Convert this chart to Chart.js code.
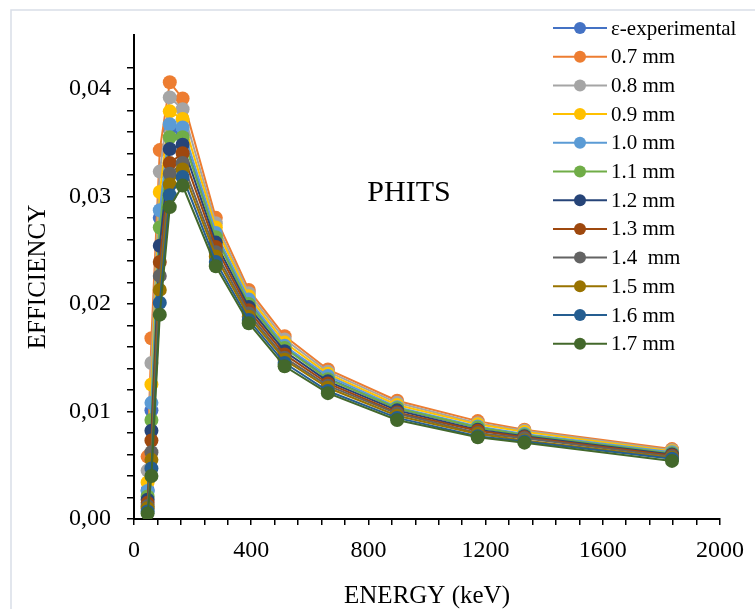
<!DOCTYPE html>
<html>
<head>
<meta charset="utf-8">
<script src="https://cdn.jsdelivr.net/npm/chart.js@4"></script>
<style>
  html, body { margin: 0; padding: 0; background: #fff; }
  #wrap { width: 755px; height: 609px; }
</style>
</head>
<body>
<div id="wrap"><canvas id="effChart" width="755" height="609"></canvas></div>
<script>
// Gamma line energies (keV)
const energies = [46.5, 59.5, 88, 122.1, 165.9, 279.2, 391.7, 514, 661.7, 898, 1173.2, 1332.5, 1836.1];

// Full-energy peak efficiency per dead-layer thickness
const effExp = [0.0027, 0.0101, 0.0280, 0.0362, 0.0358, 0.0264, 0.0202, 0.0160, 0.0131, 0.0103, 0.0085, 0.0078, 0.0061];
const eff07  = [0.0058, 0.0168, 0.0343, 0.0406, 0.0391, 0.0280, 0.0213, 0.0170, 0.0139, 0.0110, 0.0091, 0.0083, 0.0065];
const eff08  = [0.0045, 0.0145, 0.0323, 0.0392, 0.0381, 0.0275, 0.0210, 0.0167, 0.0137, 0.0108, 0.0089, 0.0082, 0.0064];
const eff09  = [0.0034, 0.0125, 0.0304, 0.0379, 0.0372, 0.0271, 0.0207, 0.0164, 0.0135, 0.0106, 0.0088, 0.0081, 0.0063];
const eff10  = [0.0026, 0.0108, 0.0287, 0.0367, 0.0364, 0.0266, 0.0204, 0.0161, 0.0133, 0.0104, 0.0086, 0.0079, 0.0062];
const eff11  = [0.0021, 0.0092, 0.0271, 0.0355, 0.0355, 0.0262, 0.0200, 0.0159, 0.0130, 0.0103, 0.0085, 0.0078, 0.0061];
const eff12  = [0.0018, 0.0082, 0.0254, 0.0344, 0.0348, 0.0257, 0.0197, 0.0156, 0.0128, 0.0101, 0.0083, 0.0077, 0.0060];
const eff13  = [0.0015, 0.0073, 0.0239, 0.0331, 0.0340, 0.0253, 0.0194, 0.0153, 0.0126, 0.0099, 0.0082, 0.0076, 0.0059];
const eff14  = [0.0012, 0.0062, 0.0226, 0.0321, 0.0331, 0.0248, 0.0191, 0.0150, 0.0124, 0.0098, 0.0080, 0.0075, 0.0058];
const eff15  = [0.0010, 0.0055, 0.0213, 0.0311, 0.0325, 0.0244, 0.0188, 0.0148, 0.0122, 0.0096, 0.0079, 0.0073, 0.0057];
const eff16  = [0.0007, 0.0047, 0.0201, 0.0301, 0.0318, 0.0239, 0.0185, 0.0145, 0.0119, 0.0094, 0.0077, 0.0072, 0.0056];
const eff17  = [0.0005, 0.0040, 0.0190, 0.0290, 0.0310, 0.0235, 0.0182, 0.0142, 0.0117, 0.0092, 0.0076, 0.0071, 0.0054];

const seriesNames = ['ε-experimental', '0.7 mm', '0.8 mm', '0.9 mm', '1.0 mm', '1.1 mm',
                     '1.2 mm', '1.3 mm', '1.4  mm', '1.5 mm', '1.6 mm', '1.7 mm'];
const seriesValues = [effExp, eff07, eff08, eff09, eff10, eff11, eff12, eff13, eff14, eff15, eff16, eff17];
const seriesColors = ['#4472C4', '#ED7D31', '#A5A5A5', '#FFC000', '#5B9BD5', '#70AD47',
                      '#264478', '#9E480E', '#636363', '#997300', '#255E91', '#43682B'];

const FONT = "'Liberation Serif', 'Times New Roman', serif";

const datasets = seriesNames.map((name, i) => ({
    label: name,
    data: energies.map((e, k) => ({ x: e, y: seriesValues[i][k] })),
    borderColor: seriesColors[i],
    backgroundColor: seriesColors[i],
    borderWidth: 2,
    pointRadius: 7,
    pointHoverRadius: 7,
    pointBorderWidth: 0,
    pointBackgroundColor: seriesColors[i],
    tension: 0,
    // later series sit on top
    order: seriesNames.length - i
}));

// frame, caption and legend drawn over the plot
const decorations = {
    id: 'decorations',
    beforeDraw(chart) {
        const ctx = chart.ctx;
        ctx.save();
        ctx.fillStyle = '#fff';
        ctx.fillRect(0, 0, chart.width, chart.height);
        ctx.strokeStyle = '#D9DEE8';
        ctx.lineWidth = 1.5;
        ctx.strokeRect(11, 10, chart.width + 20, chart.height + 20);
        ctx.restore();
    },
    afterDraw(chart) {
        const ctx = chart.ctx;
        ctx.save();
        ctx.fillStyle = '#000';
        ctx.font = '30px ' + FONT;
        ctx.textAlign = 'center';
        ctx.textBaseline = 'middle';
        ctx.fillText('PHITS', 409, 193);

        ctx.font = '21px ' + FONT;
        ctx.textAlign = 'left';
        seriesNames.forEach((name, i) => {
            const y = 28 + i * 28.7;
            ctx.strokeStyle = seriesColors[i];
            ctx.lineWidth = 2;
            ctx.beginPath();
            ctx.moveTo(553, y);
            ctx.lineTo(607, y);
            ctx.stroke();
            ctx.fillStyle = seriesColors[i];
            ctx.beginPath();
            ctx.arc(580, y, 6, 0, Math.PI * 2);
            ctx.fill();
            ctx.fillStyle = '#000';
            ctx.fillText(name, 611, y + 1);
        });
        ctx.restore();
    }
};

const isMultiple = (v, step) => Math.abs(v / step - Math.round(v / step)) < 1e-6;

new Chart(document.getElementById('effChart'), {
    type: 'line',
    data: { datasets },
    plugins: [decorations],
    options: {
        responsive: false,
        animation: false,
        layout: { padding: { top: 35, right: 31, left: 11, bottom: 0 } },
        plugins: {
            legend: { display: false },
            tooltip: { enabled: false }
        },
        scales: {
            x: {
                type: 'linear',
                min: 0,
                max: 2000,
                afterFit: s => { s.height = 609 - 519; },
                border: { color: '#000', width: 2 },
                grid: { drawOnChartArea: false, drawTicks: true, tickLength: 6, color: '#000', lineWidth: 1.5 },
                ticks: {
                    stepSize: 80,
                    autoSkip: false,
                    maxRotation: 0,
                    padding: 11,
                    color: '#000',
                    font: { family: FONT, size: 24 },
                    callback: v => isMultiple(v, 400) ? String(v) : ''
                },
                title: {
                    display: true,
                    text: 'ENERGY (keV)',
                    color: '#000',
                    font: { family: FONT, size: 25 },
                    padding: { top: 0, bottom: -2 }
                }
            },
            y: {
                type: 'linear',
                min: 0,
                max: 0.045,
                afterBuildTicks: s => { s.ticks = s.ticks.filter(t => isMultiple(t.value, 0.002)); },
                afterFit: s => { s.width = 134 - 11; },
                border: { color: '#000', width: 2 },
                grid: { drawOnChartArea: false, drawTicks: true, tickLength: 7, color: '#000', lineWidth: 1.5 },
                ticks: {
                    stepSize: 0.002,
                    autoSkip: false,
                    padding: 16,
                    color: '#000',
                    font: { family: FONT, size: 24 },
                    callback: v => isMultiple(v, 0.01) ? v.toFixed(2).replace('.', ',') : ''
                },
                title: {
                    display: true,
                    text: 'EFFICIENCY',
                    color: '#000',
                    font: { family: FONT, size: 25 },
                    padding: { top: 12, bottom: 0 }
                }
            }
        }
    }
});
</script>
</body>
</html>
